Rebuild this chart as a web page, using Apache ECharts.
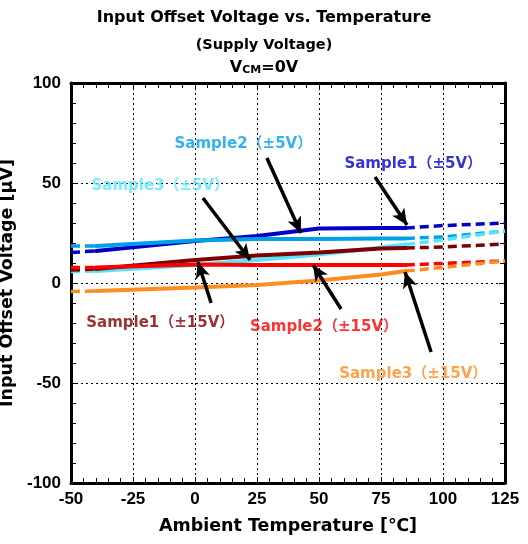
<!DOCTYPE html>
<html><head><meta charset="utf-8">
<script src="https://cdn.jsdelivr.net/npm/echarts@6/dist/echarts.min.js"></script>
<style>html,body{margin:0;padding:0;background:#fff}#c{width:528px;height:544px}</style>
</head><body><div id="c"></div>
<script>
// Temperatures (°C)
const temps = [-50, -40, 0, 25, 50, 75, 85, 100, 125];
// Input offset voltage (µV) per sample
const s1_5V  = [15.3, 16, 21, 23.5, 27.3, 27.5, 27.5, 28.7, 30];
const s2_5V  = [18.5, 18.5, 21.3, 22, 22, 22.3, 22.3, 23, 26];
const s3_5V  = [5.7, 6, 9, 11.5, 14.3, 17.7, 19.3, 21.5, 26];
const s1_15V = [6.5, 7, 11.5, 13.7, 15.3, 17.3, 17.5, 18, 19.5];
const s2_15V = [7.8, 7.8, 9.3, 9, 9, 9, 9, 9.8, 11];
const s3_15V = [-4.2, -4, -2.3, -1, 1.2, 4.3, 6, 7.8, 11];
const sampleNames = ['Sample1（±5V）','Sample2（±5V）','Sample3（±5V）','Sample1（±15V）','Sample2（±15V）','Sample3（±15V）'];
const xTicks = [-50, -25, 0, 25, 50, 75, 100, 125];
const yTicks = [-100, -50, 0, 50, 100];
// Annotation label anchors (data coords) and arrow start/tip (data coords)
const labelAt = [[88, 59.5], [19.5, 69.5], [-14, 48.5], [-14, -20], [52, -22], [88, -45.5]];
const arrowFrom = [[72.6, 53], [29, 62.5], [3.2, 42.5], [6.5, -10], [58.9, -13], [95.2, -34.5]];
const arrowTo   = [[85.5, 29], [42.7, 25], [22.2, 11.5], [1.2, 10.5], [47.6, 9], [84.7, 5.5]];

const colors = ['#0000c8', '#00a0e6', '#55e6ff', '#800000', '#ff0000', '#ff8c1e'];
const all = [s1_5V, s2_5V, s3_5V, s1_15V, s2_15V, s3_15V];

const series = [];
all.forEach((vals, k) => {
  const pts = temps.map((t, i) => [t, vals[i]]);
  series.push({type: 'line', data: pts.slice(1, 7), symbol: 'none', silent: true,
    lineStyle: {color: colors[k], width: 4, cap: 'round'}, z: 3});
  series.push({type: 'line', data: pts.slice(0, 2), symbol: 'none', silent: true,
    lineStyle: {color: colors[k], width: 3.5, type: [9, 5]}, z: 3});
  series.push({type: 'line', data: pts.slice(6), symbol: 'none', silent: true,
    lineStyle: {color: colors[k], width: 3.5, type: [9, 5]}, z: 3});
});

series.push({
  type: 'scatter', symbolSize: 0, silent: true, z: 5,
  data: sampleNames.map((n, k) => ({value: labelAt[k], name: n,
    label: {show: true, position: 'inside', formatter: n, color: colors[k],
      fontFamily: '"DejaVu Sans", "Noto Sans CJK JP"', fontWeight: 'bold', fontSize: 15}})),
  markLine: {
    silent: true, animation: false, symbol: ['none', 'arrow'], symbolSize: [11, 16],
    label: {show: false},
    lineStyle: {color: '#000', width: 3.5, type: 'solid'},
    data: arrowFrom.map((f, k) => [{coord: f}, {coord: arrowTo[k]}])
  }
});

const axisCommon = {type: 'value', min: -50, max: 125, interval: 25};
const tickFont = {color: '#000', fontFamily: 'Liberation Sans', fontWeight: 'bold', fontSize: 17};
const nameFont = {color: '#000', fontFamily: 'DejaVu Sans', fontWeight: 'bold', fontSize: 17.5};
const frameLine = {onZero: false, lineStyle: {color: '#000', width: 3}};
const tick = {inside: true, length: 6, lineStyle: {color: '#000', width: 1}};
const minor = {show: true, splitNumber: 5, length: 5, lineStyle: {color: '#000', width: 1}};
const grid = {show: true, lineStyle: {color: '#000', width: 1, type: [2, 3]}};

const option = {
  animation: false,
  title: [
    {text: 'Input Offset Voltage vs. Temperature', left: 'center', top: 5,
     textStyle: {fontFamily: 'DejaVu Sans', fontWeight: 'bold', fontSize: 16, color: '#000'}},
    {text: '(Supply Voltage)', left: 'center', top: 33,
     textStyle: {fontFamily: 'DejaVu Sans', fontWeight: 'bold', fontSize: 14.5, color: '#000'}},
    {text: 'V{s|CM}=0V', left: 'center', top: 55,
     textStyle: {fontFamily: 'DejaVu Sans', fontWeight: 'bold', fontSize: 16, color: '#000',
       rich: {s: {fontFamily: 'DejaVu Sans', fontWeight: 'bold', fontSize: 11, color: '#000', verticalAlign: 'bottom', padding: [5, 0, 0, 0]}}}}
  ],
  grid: {left: 71, right: 23, top: 83, bottom: 61, containLabel: false, outerBoundsMode: 'none'},
  xAxis: [
    Object.assign({}, axisCommon, {
      position: 'bottom',
      name: 'Ambient Temperature [℃]', nameLocation: 'middle', nameGap: 34,
      nameTextStyle: nameFont,
      axisLine: frameLine, axisTick: tick, minorTick: minor,
      axisLabel: Object.assign({margin: 8}, tickFont),
      splitLine: grid
    }),
    Object.assign({}, axisCommon, {
      position: 'top',
      axisLine: frameLine, axisTick: tick, minorTick: minor,
      axisLabel: {show: false}, splitLine: {show: false}
    })
  ],
  yAxis: [
    {type: 'value', min: -100, max: 100, interval: 50, position: 'left',
     name: 'Input Offset Voltage [μV]', nameLocation: 'middle', nameGap: 44,
     nameTextStyle: nameFont,
     axisLine: frameLine, axisTick: tick, minorTick: minor,
     axisLabel: Object.assign({margin: 10}, tickFont),
     splitLine: grid},
    {type: 'value', min: -100, max: 100, interval: 50, position: 'right',
     axisLine: frameLine, axisTick: tick, minorTick: minor,
     axisLabel: {show: false}, splitLine: {show: false}}
  ],
  series: series
};
const chart = echarts.init(document.getElementById('c'), null, {renderer: 'canvas'});
chart.setOption(option);
</script></body></html>
